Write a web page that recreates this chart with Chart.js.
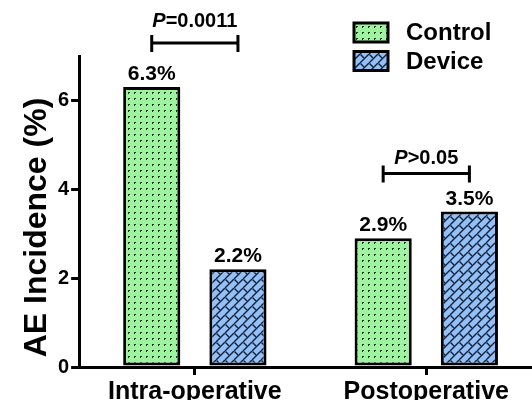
<!DOCTYPE html>
<html><head><meta charset="utf-8">
<script src="https://cdn.jsdelivr.net/npm/chart.js@4.4.1/dist/chart.umd.min.js"></script>
<style>
html,body{margin:0;padding:0;overflow:hidden;background:#fff;width:532px;height:400px}
#wrap{position:absolute;left:0;top:0;width:542px;height:409px}
</style>
</head><body><div id="wrap"><canvas id="c" width="542" height="409"></canvas></div>
<script>
// ---- data ----
const categories = ['Intra-operative', 'Postoperative'];
const seriesNames = ['Control', 'Device'];
const controlValues = [6.3, 2.9];
const deviceValues = [2.2, 3.5];
const yTickValues = [0, 2, 4, 6];
const yAxisMax = 7;
const yTitle = 'AE Incidence (%)';
const pLabels = ['=0.0011', '>0.05'];

// ---- styles ----
const FONT = '"Liberation Sans", Arial, sans-serif';

function dotPattern() {
  const c = document.createElement('canvas');
  c.width = 6; c.height = 6;
  const g = c.getContext('2d');
  g.fillStyle = '#9ff29f';
  g.fillRect(0, 0, 6, 6);
  g.fillStyle = '#1e3a1e';
  g.fillRect(2, 2, 2, 2);
  g.fillStyle = '#9ff29f';
  g.fillRect(3, 3, 1, 1);
  return g.createPattern(c, 'repeat');
}
function brickPattern() {
  const s = 9;
  const c = document.createElement('canvas');
  c.width = s; c.height = s;
  const g = c.getContext('2d');
  g.fillStyle = '#93c0f6';
  g.fillRect(0, 0, s, s);
  g.strokeStyle = '#13223c';
  g.lineWidth = 1.4;
  for (let k = -1; k <= 1; k++) {
    g.beginPath();
    g.moveTo(k * s, s);
    g.lineTo(k * s + s, 0);
    g.stroke();
  }
  g.beginPath();
  g.moveTo(0.5, 0.5); g.lineTo(4, 4);
  g.stroke();
  return g.createPattern(c, 'repeat');
}
const controlFill = dotPattern();
const deviceFill = brickPattern();

const yTitlePlugin = {
  id: 'yTitlePlugin',
  afterDraw(chart, args, opts) {
    const ctx = chart.ctx;
    const ca = chart.chartArea;
    ctx.save();
    ctx.translate(opts.x, (ca.top + ca.bottom) / 2 + opts.shift);
    ctx.rotate(-Math.PI / 2);
    ctx.fillStyle = '#000';
    ctx.font = 'bold 32px ' + FONT;
    ctx.textAlign = 'center';
    ctx.textBaseline = 'middle';
    ctx.fillText(yTitle, 0, 0);
    ctx.restore();
  }
};

const valueLabels = {
  id: 'valueLabels',
  afterDatasetsDraw(chart) {
    const ctx = chart.ctx;
    ctx.save();
    ctx.fillStyle = '#000';
    ctx.font = 'bold 21px ' + FONT;
    ctx.textAlign = 'center';
    ctx.textBaseline = 'alphabetic';
    chart.data.datasets.forEach((ds, di) => {
      chart.getDatasetMeta(di).data.forEach((bar, i) => {
        ctx.fillText(ds.data[i].toFixed(1) + '%', bar.x, bar.y - 7);
      });
    });
    ctx.restore();
  }
};

const brackets = {
  id: 'brackets',
  afterDatasetsDraw(chart, args, opts) {
    const ctx = chart.ctx;
    const m0 = chart.getDatasetMeta(0).data;
    const m1 = chart.getDatasetMeta(1).data;
    ctx.save();
    ctx.strokeStyle = '#000';
    ctx.lineWidth = 3;
    pLabels.forEach((lab, i) => {
      const x1 = m0[i].x, x2 = m1[i].x;
      const top = Math.min(m0[i].y, m1[i].y);
      const ly = top - opts.lift[i];
      ctx.beginPath();
      ctx.moveTo(x1, ly); ctx.lineTo(x2, ly);
      ctx.moveTo(x1, ly - 8); ctx.lineTo(x1, ly + 9);
      ctx.moveTo(x2, ly - 8); ctx.lineTo(x2, ly + 9);
      ctx.stroke();
      const fs = 20;
      ctx.fillStyle = '#000';
      ctx.textBaseline = 'alphabetic';
      ctx.textAlign = 'left';
      const fi = 'italic bold ' + fs + 'px ' + FONT;
      const fb = 'bold ' + fs + 'px ' + FONT;
      ctx.font = fi; const wP = ctx.measureText('P').width;
      ctx.font = fb; const wR = ctx.measureText(lab).width;
      const sx = (x1 + x2) / 2 - (wP + wR) / 2;
      const by = ly - opts.textGap[i];
      ctx.font = fi; ctx.fillText('P', sx, by);
      ctx.font = fb; ctx.fillText(lab, sx + wP, by);
    });
    ctx.restore();
  }
};

const boxLegend = {
  id: 'boxLegend',
  afterDraw(chart) {
    const ctx = chart.ctx;
    ctx.save();
    chart.data.datasets.forEach((ds, i) => {
      const bx = 354, by = 23 + i * 28.5, bw = 34, bh = 19;
      ctx.fillStyle = ds.backgroundColor;
      ctx.fillRect(bx, by, bw, bh);
      ctx.strokeStyle = '#000';
      ctx.lineWidth = 3;
      ctx.strokeRect(bx, by, bw, bh);
      ctx.fillStyle = '#000';
      ctx.font = 'bold 24px ' + FONT;
      ctx.textAlign = 'left';
      ctx.textBaseline = 'middle';
      ctx.fillText(ds.label, 406, by + bh / 2 + 1);
    });
    ctx.restore();
  }
};

new Chart(document.getElementById('c'), {
  type: 'bar',
  data: {
    labels: categories,
    datasets: [
      { label: seriesNames[0], data: controlValues, backgroundColor: controlFill },
      { label: seriesNames[1], data: deviceValues, backgroundColor: deviceFill }
    ]
  },
  options: {
    responsive: false,
    animation: false,
    devicePixelRatio: 1,
    layout: { padding: { left: 56, top: 56, right: 0, bottom: 0 } },
    datasets: {
      bar: {
        borderColor: '#000',
        borderWidth: 3,
        borderSkipped: false,
        barPercentage: 0.663,
        categoryPercentage: 0.745
      }
    },
    plugins: {
      legend: { display: false },
      tooltip: { enabled: false },
      brackets: { lift: [44, 38], textGap: [16, 10] },
      yTitlePlugin: { x: 37, shift: 16 }
    },
    scales: {
      x: {
        offset: true,
        grid: { display: true, offset: false, drawOnChartArea: false, drawTicks: true, tickLength: 8, tickWidth: 3, color: '#000', lineWidth: 3 },
        border: { display: true, color: '#000', width: 3 },
        ticks: { color: '#000', padding: 2, font: { family: FONT, size: 25, weight: 'bold' } }
      },
      y: {
        min: 0,
        max: yAxisMax,
        afterBuildTicks: (s) => { s.ticks = yTickValues.map(v => ({ value: v })); },
        grid: { display: true, drawOnChartArea: false, drawTicks: true, tickLength: 8, tickWidth: 3, color: '#000', lineWidth: 3 },
        border: { display: true, color: '#000', width: 3 },
        ticks: { color: '#000', padding: 2, font: { family: FONT, size: 20, weight: 'bold' } }
      }
    }
  },
  plugins: [valueLabels, brackets, boxLegend, yTitlePlugin]
});
</script>
</body></html>
